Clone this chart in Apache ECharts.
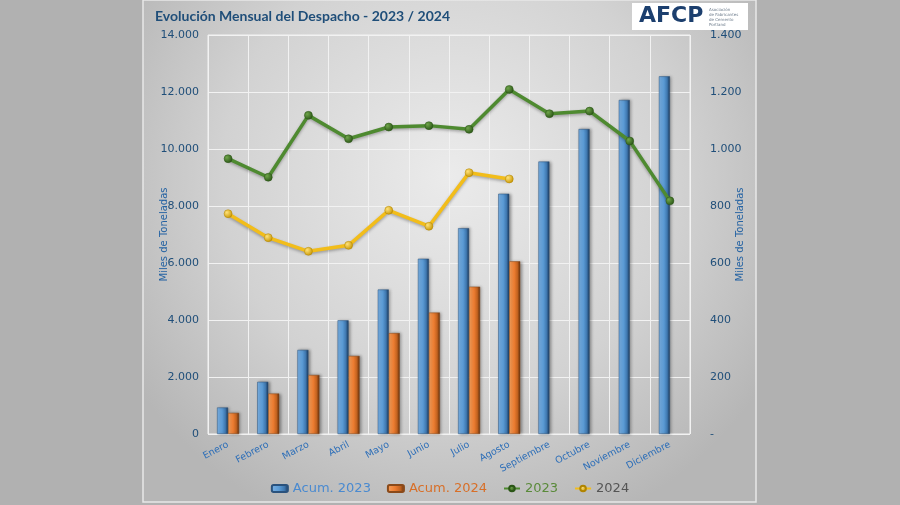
<!DOCTYPE html>
<html>
<head>
<meta charset="utf-8">
<script src="https://cdn.jsdelivr.net/npm/echarts@6/dist/echarts.min.js"></script>
<style>
html,body{margin:0;padding:0;background:#b1b1b1;}
#c{width:900px;height:505px;}
</style>
</head>
<body>
<div id="c"></div>
<script>
const months = ['Enero','Febrero','Marzo','Abril','Mayo','Junio','Julio','Agosto','Septiembre','Octubre','Noviembre','Diciembre'];
const acum2023 = [930, 1830, 2950, 3990, 5070, 6150, 7220, 8430, 9560, 10700, 11720, 12550];
const acum2024 = [740, 1420, 2070, 2740, 3540, 4260, 5170, 6060, null, null, null, null];
const mes2023 = [966, 901, 1118, 1036, 1077, 1082, 1069, 1209, 1124, 1133, 1028, 818];
const mes2024 = [773, 689, 641, 662, 785, 729, 917, 895, null, null, null, null];
const titleText = 'Evolución Mensual del Despacho - 2023 / 2024';
const axisName = 'Miles de Toneladas';

function fmt(v){
  return String(Math.round(v)).replace(/\B(?=(\d{3})+(?!\d))/g, '.');
}

const chart = echarts.init(document.getElementById('c'));
const blueGrad = new echarts.graphic.LinearGradient(0,0,1,0,[
  {offset:0,color:'#7db3e6'},{offset:0.45,color:'#5b9bd5'},{offset:0.75,color:'#3f78b0'},{offset:1,color:'#1a3556'}]);
const orangeGrad = new echarts.graphic.LinearGradient(0,0,1,0,[
  {offset:0,color:'#f7a25e'},{offset:0.45,color:'#ed7d31'},{offset:0.75,color:'#c2621f'},{offset:1,color:'#5e2d0c'}]);

chart.setOption({
  backgroundColor:'#b1b1b1',
  animation:false,
  textStyle:{fontFamily:'DejaVu Sans'},
  graphic:[
    {type:'rect', z:-10, silent:true, shape:{x:143,y:0,width:613,height:502},
     style:{fill:new echarts.graphic.RadialGradient(0.5,0.35,0.75,[
       {offset:0,color:'#ebebeb'},{offset:0.6,color:'#d2d2d2'},{offset:1,color:'#b6b6b6'}]),
       stroke:'#e8e8e8', lineWidth:1.5}},
    {type:'rect', z:-9, silent:true, shape:{x:632,y:3,width:116,height:27}, style:{fill:'#ffffff'}},
    {type:'text', z:-8, silent:true, x:639, y:5, style:{text:'AFCP', fill:'#1c3f6e', font:'bold 22px "DejaVu Sans"'}},
    {type:'text', z:-8, silent:true, x:709, y:7, style:{text:'Asociación\nde Fabricantes\nde Cemento\nPortland', fill:'#6b7a8a', font:'4px "DejaVu Sans"', lineHeight:5}},
    {type:'text', z:-8, silent:true, x:155, y:9, style:{text:titleText, fill:'#1f4e79', font:'bold 14px Lato'}}
  ],
  grid:{left:208, right:210, top:35, bottom:71, show:true, borderColor:'#f2f2f2', borderWidth:1},
  legend:{
    bottom:5, left:'center', itemWidth:16, itemHeight:7, itemGap:16,
    textStyle:{fontSize:13, fontFamily:'DejaVu Sans'},
    data:[
      {name:'Acum. 2023', textStyle:{color:'#4a8ad0'}},
      {name:'Acum. 2024', textStyle:{color:'#d86f28'}},
      {name:'2023', textStyle:{color:'#5a8a3a'}},
      {name:'2024', textStyle:{color:'#555555'}}
    ]
  },
  xAxis:{
    type:'category', data:months,
    axisLine:{show:false}, axisTick:{show:false},
    splitLine:{show:true, lineStyle:{color:'#f2f2f2', width:1}},
    axisLabel:{rotate:28, color:'#2e6fb8', fontSize:9.5, margin:10, interval:0, fontFamily:'DejaVu Sans'}
  },
  yAxis:[
    {type:'value', min:0, max:14000, interval:2000,
     name:axisName, nameLocation:'middle', nameRotate:90, nameGap:39, nameMoveOverlap:false,
     nameTextStyle:{color:'#2563a3', fontSize:10},
     axisLine:{show:false}, axisTick:{show:false},
     splitLine:{lineStyle:{color:'#f2f2f2', width:1}},
     axisLabel:{color:'#1f4e79', fontSize:11, margin:9, formatter:v=>fmt(v)}},
    {type:'value', min:0, max:1400, interval:200,
     name:axisName, nameLocation:'middle', nameRotate:90, nameGap:45, nameMoveOverlap:false,
     nameTextStyle:{color:'#2563a3', fontSize:10},
     axisLine:{show:false}, axisTick:{show:false}, splitLine:{show:false},
     axisLabel:{color:'#1f4e79', fontSize:11, margin:20, align:'left', formatter:v=> v===0 ? '-' : fmt(v)}}
  ],
  series:[
    {name:'Acum. 2023', type:'bar', data:acum2023, barWidth:11, barGap:'0%',
     itemStyle:{color:blueGrad, borderColor:'#2a527d', borderWidth:0.5, shadowColor:'rgba(0,0,0,0.35)', shadowBlur:3, shadowOffsetX:1.5, shadowOffsetY:0}},
    {name:'Acum. 2024', type:'bar', data:acum2024, barWidth:11, barGap:'0%',
     itemStyle:{color:orangeGrad, borderColor:'#8a4a1a', borderWidth:0.5, shadowColor:'rgba(0,0,0,0.35)', shadowBlur:3, shadowOffsetX:1.5, shadowOffsetY:0}},
    {name:'2023', type:'line', yAxisIndex:1, data:mes2023, symbol:'circle', symbolSize:8,
     lineStyle:{color:'#4e8a30', width:3.5, shadowColor:'rgba(0,0,0,0.3)', shadowBlur:3, shadowOffsetY:1.5},
     itemStyle:{color:new echarts.graphic.RadialGradient(0.35,0.35,0.7,[{offset:0,color:'#6fa54a'},{offset:1,color:'#2a5516'}]), borderColor:'#2a5516', borderWidth:0.5}},
    {name:'2024', type:'line', yAxisIndex:1, data:mes2024, symbol:'circle', symbolSize:8,
     lineStyle:{color:'#f2bd1a', width:3.5, shadowColor:'rgba(0,0,0,0.3)', shadowBlur:3, shadowOffsetY:1.5},
     itemStyle:{color:new echarts.graphic.RadialGradient(0.35,0.35,0.7,[{offset:0,color:'#ffe27a'},{offset:1,color:'#c89600'}]), borderColor:'#b08400', borderWidth:0.5}}
  ]
});
</script>
</body>
</html>
